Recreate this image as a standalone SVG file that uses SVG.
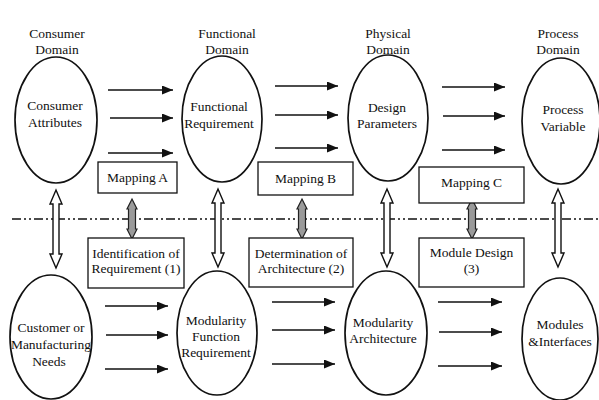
<svg xmlns="http://www.w3.org/2000/svg" width="599" height="400" viewBox="0 0 599 400" font-family="Liberation Serif, DejaVu Serif, serif">
<style>
  text { font-size: 13.5px; fill: #111; text-anchor: middle; }
  .el { fill: #fff; stroke: #111; stroke-width: 1.7; }
  .box { fill: #fff; stroke: #111; stroke-width: 1.3; }
  .arr { stroke: #111; stroke-width: 1.7; fill: none; marker-end: url(#ah); }
  .dbl { fill: #fff; stroke: #111; stroke-width: 1.4; stroke-linejoin: miter; }
  .gry { fill: #9a9a9a; stroke: #222; stroke-width: 1.2; }
  .axis { stroke: #111; stroke-width: 1.3; stroke-dasharray: 9 3 2 3 2 3; fill: none; }
</style>
<defs>
  <marker id="ah" markerUnits="userSpaceOnUse" markerWidth="12" markerHeight="10" refX="11" refY="4.5" orient="auto">
    <path d="M0,0 L11,4.5 L0,9 Z" fill="#111"/>
  </marker>
  <path id="dblArrow" d="M0,0 L6,14 L3,14 L3,64 L6,64 L0,78 L-6,64 L-3,64 L-3,14 L-6,14 Z"/>
  <path id="gryArrow" d="M0,0 L5,10 L3.5,10 L3.5,30 L5,30 L0,40 L-5,30 L-3.5,30 L-3.5,10 L-5,10 Z"/>
</defs>

<line class="axis" x1="12" y1="219" x2="599" y2="219"/>

<g id="domain-labels" font-family="Liberation Serif, serif">
  <text x="57" y="38">Consumer</text><text x="57" y="54">Domain</text>
  <text x="227" y="38">Functional</text><text x="227" y="54">Domain</text>
  <text x="388" y="38">Physical</text><text x="388" y="54">Domain</text>
  <text x="558" y="38">Process</text><text x="558" y="54">Domain</text>
</g>

<g id="connectors">
  <line class="arr" x1="108" y1="90" x2="173" y2="90"/>
  <line class="arr" x1="110" y1="118" x2="173" y2="118"/>
  <line class="arr" x1="108" y1="153" x2="173" y2="153"/>
  <line class="arr" x1="275" y1="86" x2="338" y2="86"/>
  <line class="arr" x1="275" y1="115" x2="338" y2="115"/>
  <line class="arr" x1="275" y1="148" x2="338" y2="148"/>
  <line class="arr" x1="442" y1="87" x2="505" y2="87"/>
  <line class="arr" x1="443" y1="116" x2="505" y2="116"/>
  <line class="arr" x1="442" y1="150" x2="505" y2="150"/>
  <line class="arr" x1="105" y1="306" x2="168" y2="306"/>
  <line class="arr" x1="106" y1="335" x2="168" y2="335"/>
  <line class="arr" x1="105" y1="369" x2="168" y2="369"/>
  <line class="arr" x1="272" y1="302" x2="335" y2="302"/>
  <line class="arr" x1="272" y1="330" x2="335" y2="330"/>
  <line class="arr" x1="272" y1="364" x2="335" y2="364"/>
  <line class="arr" x1="438" y1="302" x2="502" y2="302"/>
  <line class="arr" x1="439" y1="332" x2="502" y2="332"/>
  <line class="arr" x1="438" y1="366" x2="502" y2="366"/>
  <use href="#dblArrow" class="dbl" x="56" y="190"/>
  <use href="#dblArrow" class="dbl" x="218" y="189"/>
  <use href="#dblArrow" class="dbl" x="387" y="189"/>
  <use href="#dblArrow" class="dbl" x="558" y="189"/>
  <use href="#gryArrow" class="gry" x="132" y="199"/>
  <use href="#gryArrow" class="gry" x="302" y="199"/>
  <use href="#gryArrow" class="gry" x="472" y="199"/>
</g>

<g id="consumer-attributes">
  <ellipse class="el" cx="56" cy="120" rx="41" ry="63"/>
  <text x="55" y="110">Consumer</text><text x="55" y="127">Attributes</text>
</g>
<g id="functional-requirement">
  <ellipse class="el" cx="222" cy="119" rx="40" ry="63"/>
  <text x="219" y="110.5">Functional</text><text x="219" y="127.5">Requirement</text>
</g>
<g id="design-parameters">
  <ellipse class="el" cx="388" cy="118" rx="40" ry="63"/>
  <text x="387" y="112">Design</text><text x="387" y="128">Parameters</text>
</g>
<g id="process-variable">
  <ellipse class="el" cx="561" cy="121" rx="39" ry="63"/>
  <text x="563" y="114">Process</text><text x="563" y="131">Variable</text>
</g>

<g id="customer-needs">
  <ellipse class="el" cx="51" cy="337" rx="41" ry="62"/>
  <text x="51" y="332">Customer or</text><text x="51" y="349">Manufacturing</text><text x="49" y="366">Needs</text>
</g>
<g id="modularity-function-requirement">
  <ellipse class="el" cx="217" cy="333" rx="40" ry="62"/>
  <text x="216" y="325">Modularity</text><text x="216" y="341">Function</text><text x="216" y="357">Requirement</text>
</g>
<g id="modularity-architecture">
  <ellipse class="el" cx="386" cy="333" rx="41" ry="62"/>
  <text x="383" y="327">Modularity</text><text x="383" y="343">Architecture</text>
</g>
<g id="modules-interfaces">
  <ellipse class="el" cx="560" cy="339" rx="38" ry="61"/>
  <text x="560" y="329">Modules</text><text x="560" y="346">&amp;Interfaces</text>
</g>

<g id="mapping-a">
  <rect class="box" x="98" y="162" width="79" height="31"/>
  <text x="137.5" y="182">Mapping A</text>
</g>
<g id="mapping-b">
  <rect class="box" x="258" y="162" width="95" height="33"/>
  <text x="305.5" y="183">Mapping B</text>
</g>
<g id="mapping-c">
  <rect class="box" x="419" y="167" width="105" height="36"/>
  <text x="471.5" y="187">Mapping C</text>
</g>

<g id="identification">
  <rect class="box" x="88" y="238" width="96" height="50"/>
  <text x="136" y="258">Identification of</text><text x="136" y="273">Requirement (1)</text>
</g>
<g id="determination">
  <rect class="box" x="249" y="238" width="104" height="49"/>
  <text x="301" y="258">Determination of</text><text x="301" y="273">Architecture (2)</text>
</g>
<g id="module-design">
  <rect class="box" x="419" y="238" width="105" height="49"/>
  <text x="471.5" y="257">Module Design</text><text x="471.5" y="273">(3)</text>
</g>
</svg>
